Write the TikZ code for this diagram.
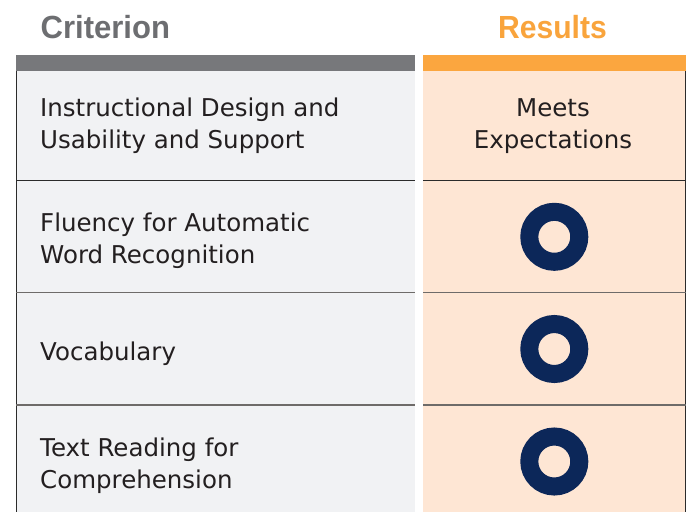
\documentclass[tikz,border=0pt]{standalone}
\usepackage{fontspec}
\setmainfont{DejaVu Sans}
\newfontfamily\headfont{Liberation Sans}[FakeStretch=0.94]
\newfontfamily\critfont{Liberation Sans}[FakeStretch=0.97]
\definecolor{txt}{HTML}{231F20}
\definecolor{critgray}{HTML}{6D6E71}
\definecolor{resorange}{HTML}{F9A43C}
\definecolor{bargray}{HTML}{77787B}
\definecolor{barorange}{HTML}{FBA63F}
\definecolor{colgray}{HTML}{F1F2F4}
\definecolor{colorange}{HTML}{FEE6D4}
\definecolor{navy}{HTML}{0C2759}
\definecolor{sepdark}{HTML}{2B2B2B}
\definecolor{sepgray}{HTML}{6E6B69}
\begin{document}
\begin{tikzpicture}[x=1pt,y=-1pt,
  head/.style={inner sep=0pt,font=\headfont\bfseries\fontsize{32}{36}\selectfont},
  crithead/.style={inner sep=0pt,font=\critfont\bfseries\fontsize{32}{36}\selectfont},
  body/.style={inner sep=0pt,text=txt,font=\fontsize{24.5}{32}\selectfont},
  sepline/.style={line width=1.3pt},
  ring/.style={draw=navy,line width=18pt}]
\useasboundingbox (0,0) rectangle (687,512);
\fill[white] (0,0) rectangle (687,512);
% header texts
\node[crithead,text=critgray,anchor=base west] (hcrit) at (40.5,38.3) {Criterion};
\node[head,text=resorange,anchor=base] (hres) at (552.5,38.3) {Results};
% bars
\fill[bargray] (16,55) rectangle (415,71);
\fill[barorange] (423,55) rectangle (686,71);
% columns
\fill[colgray] (16,71) rectangle (415,512);
\fill[colorange] (423,71) rectangle (686,512);
% outer borders
\draw[sepline,draw=sepdark] (16.6,71) -- (16.6,512);
\draw[sepline,draw=sepdark] (685.3,71) -- (685.3,512);
% row separators
\draw[sepline,draw=sepdark] (16,180.7) -- (415,180.7);
\draw[sepline,draw=sepdark] (423,180.7) -- (686,180.7);
\draw[sepline,draw=sepgray] (16,292.7) -- (415,292.7);
\draw[sepline,draw=sepgray] (423,292.7) -- (686,292.7);
\draw[sepline,draw=sepgray] (16,405) -- (415,405);
\draw[sepline,draw=sepgray] (423,405) -- (686,405);
% criterion texts
\node[body,anchor=base west] (c1a) at (40,116.7) {Instructional Design and};
\node[body,anchor=base west] (c1b) at (40,148.3) {Usability and Support};
\node[body,anchor=base west] (c2a) at (40,231.7) {Fluency for Automatic};
\node[body,anchor=base west] (c2b) at (40,263.3) {Word Recognition};
\node[body,anchor=base west] (c3a) at (40,360) {Vocabulary};
\node[body,anchor=base west] (c4a) at (40,456) {Text Reading for};
\node[body,anchor=base west] (c4b) at (40,488.3) {Comprehension};
% results
\node[body,anchor=base] (r1a) at (553,116.7) {Meets};
\node[body,anchor=base] (r1b) at (553,148.3) {Expectations};
\draw[ring] (554.3,236.8) circle (25);
\draw[ring] (554.3,349) circle (25);
\draw[ring] (554.3,461.5) circle (25);
\end{tikzpicture}
\end{document}
